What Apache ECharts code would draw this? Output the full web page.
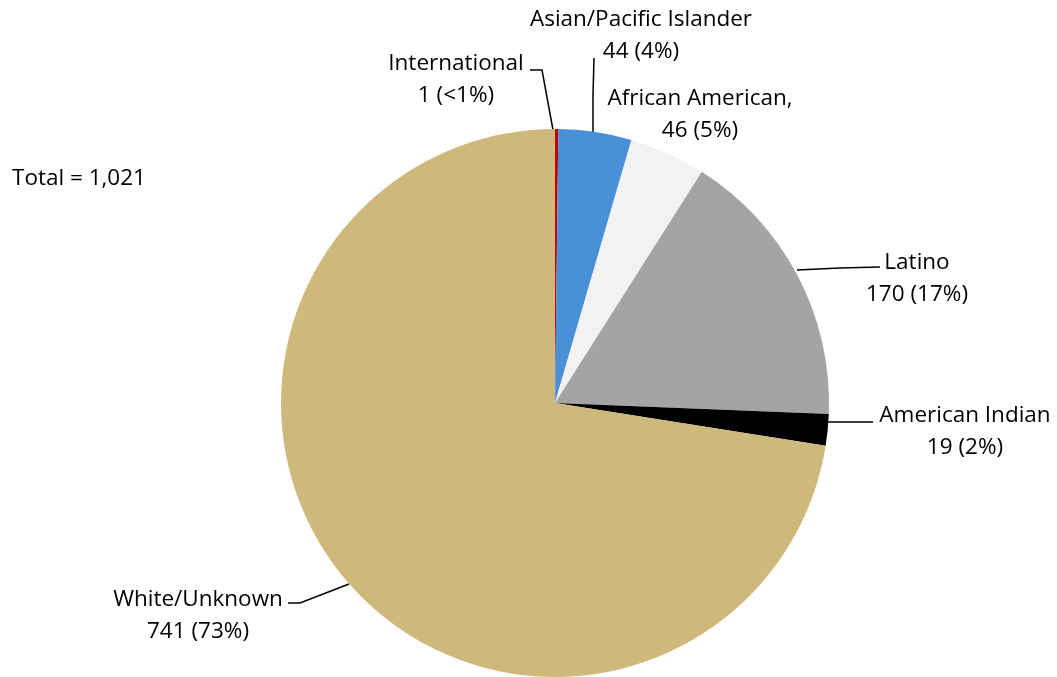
<!DOCTYPE html>
<html><head><meta charset="utf-8">
<script src="https://cdn.jsdelivr.net/npm/echarts@6/dist/echarts.min.js"></script>
<style>html,body{margin:0;padding:0;background:#fff}#c{width:1057px;height:677px}</style>
</head><body><div id="c"></div>
<script>
var categories = ['International', 'Asian/Pacific Islander', 'African American,', 'Latino', 'American Indian', 'White/Unknown'];
var values = [1, 44, 46, 170, 19, 741];
var colors = ['#C00000', '#4A90D9', '#F2F2F2', '#A3A5A4', '#000000', '#CFB87C'];
var totalLabel = 'Total = 1,021';

// label layout (positions only)
var labelPos = [
  {x: 456, y: 80, line: [[553, 130], [542, 70], [530, 70]]},
  {x: 641, y: 36, line: [[593, 133], [593, 95], [594, 58]]},
  {x: 700, y: 115, line: null},
  {x: 917, y: 279, line: [[797, 270], [840, 268], [880, 267]]},
  {x: 965, y: 432, line: [[828, 422], [850, 422], [873, 422]]},
  {x: 198, y: 616, line: [[349, 584], [300, 603], [288, 603]]}
];

var total = values.reduce(function (a, b) { return a + b; }, 0);
var data = categories.map(function (n, i) {
  return {name: n, value: values[i], itemStyle: {color: colors[i]}};
});

var chart = echarts.init(document.getElementById('c'));
chart.setOption({
  animation: false,
  title: {
    text: totalLabel, left: 12, top: 167, padding: 0,
    textStyle: {fontFamily: 'Open Sans', fontSize: 22.5, fontWeight: 'normal', color: '#000'}
  },
  series: [{
    type: 'pie',
    center: [555, 403],
    radius: 274,
    startAngle: 90,
    clockwise: true,
    minAngle: 0.7,
    avoidLabelOverlap: false,
    data: data,
    itemStyle: {borderWidth: 0},
    emphasis: {disabled: true},
    label: {
      show: true,
      position: 'outside',
      fontFamily: 'Open Sans',
      fontSize: 22.5,
      lineHeight: 32,
      color: '#000',
      align: 'center',
      formatter: function (p) {
        var pct = p.value / total * 100;
        var s = pct < 1 ? '<1%' : Math.round(pct) + '%';
        return p.name + '\n' + p.value + ' (' + s + ')';
      }
    },
    labelLine: {show: true, lineStyle: {color: '#000', width: 1.5}},
    labelLayout: function (params) {
      var lp = labelPos[params.dataIndex];
      var r = {x: lp.x, y: lp.y, align: 'center', verticalAlign: 'middle'};
      if (lp.line) r.labelLinePoints = lp.line;
      else r.labelLinePoints = [[0, 0], [0, 0], [0, 0]];
      return r;
    }
  }]
});
</script></body></html>
